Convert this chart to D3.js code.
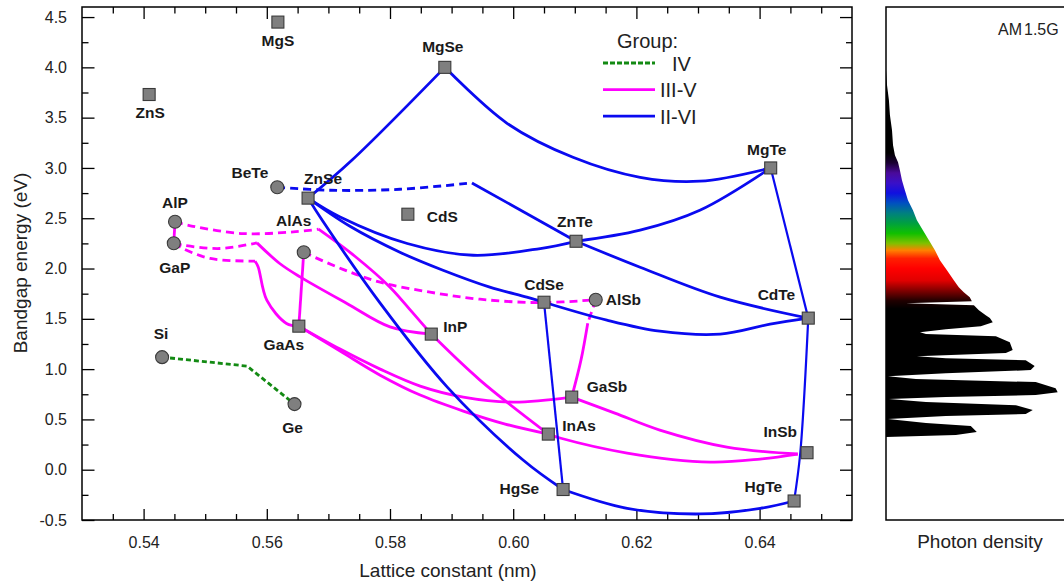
<!DOCTYPE html>
<html>
<head>
<meta charset="utf-8">
<script src="https://cdn.jsdelivr.net/npm/d3@7"></script>
<style>
  body { margin: 0; background: #fff; }
  svg { display: block; font-family: "Liberation Sans", Arial, sans-serif; }
  .tick text { font-family: "Liberation Sans", Arial, sans-serif; font-size: 16px; fill: #222; }
  .tick line { stroke: #000; stroke-width: 1.3; }
  .cmp { font-size: 15.5px; font-weight: bold; fill: #1a1a1a; }
  .label { font-size: 19px; fill: #222; }
</style>
</head>
<body>
<svg id="chart" width="1064" height="586"></svg>
<script>
// compounds: lattice constant (nm) vs bandgap (eV)
const compounds = ["MgS", "ZnS", "MgSe", "BeTe", "ZnSe", "CdS", "ZnTe", "MgTe", "CdTe", "CdSe", "AlSb",
    "AlP", "GaP", "AlAs", "GaAs", "InP", "GaSb", "InAs", "InSb", "HgSe", "HgTe", "Si", "Ge"];
const latticeNm = [0.5618, 0.5409, 0.5889, 0.5617, 0.5667, 0.5829, 0.6102, 0.6418, 0.6479, 0.6050, 0.6134,
    0.5451, 0.5449, 0.5660, 0.5652, 0.5867, 0.6095, 0.6057, 0.6477, 0.6081, 0.6456, 0.5430, 0.5645];
const bandgapEv = [4.45, 3.73, 4.00, 2.808, 2.70, 2.54, 2.271, 3.00, 1.507, 1.665, 1.69,
    2.465, 2.252, 2.162, 1.427, 1.348, 0.722, 0.354, 0.169, -0.197, -0.311, 1.119, 0.652];
const gapType = ["d", "d", "d", "i", "d", "d", "d", "d", "d", "d", "i",
    "i", "i", "i", "d", "d", "d", "d", "d", "d", "d", "i", "i"];

// alloy lines, [lattice, bandgap] points; indirect parts drawn dashed
const groupIV = [
    { indirect: true, straight: true, pts: [[0.5430, 1.119], [0.5568, 1.030], [0.5645, 0.652]] }
];
const groupIIIV = [
    { indirect: false, pts: [[0.5451, 2.465], [0.5449, 2.252]] },
    { indirect: true, pts: [[0.5451, 2.465], [0.5480, 2.420], [0.5561, 2.348], [0.5643, 2.364], [0.5684, 2.391]] },
    { indirect: false, pts: [[0.5684, 2.391], [0.5743, 2.122], [0.5800, 1.815], [0.5836, 1.566], [0.5867, 1.348]] },
    { indirect: true, pts: [[0.5449, 2.252], [0.5464, 2.232], [0.5524, 2.199], [0.5584, 2.255]] },
    { indirect: false, pts: [[0.5584, 2.255], [0.5621, 2.050], [0.5654, 1.917], [0.5730, 1.653], [0.5800, 1.420], [0.5867, 1.348]] },
    { indirect: true, pts: [[0.5449, 2.252], [0.5464, 2.199], [0.5508, 2.100], [0.5581, 2.073]] },
    { indirect: false, pts: [[0.5581, 2.073], [0.5586, 2.016], [0.5600, 1.685], [0.5632, 1.454], [0.5652, 1.427]] },
    { indirect: false, pts: [[0.5660, 2.162], [0.5652, 1.427]] },
    { indirect: true, pts: [[0.5660, 2.162], [0.5719, 2.003], [0.5784, 1.864], [0.5865, 1.765], [0.5946, 1.695], [0.6044, 1.661], [0.6134, 1.690]] },
    { indirect: false, pts: [[0.5652, 1.427], [0.5719, 1.179], [0.5784, 0.940], [0.5849, 0.742], [0.5919, 0.583], [0.5987, 0.454], [0.6057, 0.354]] },
    { indirect: false, pts: [[0.5652, 1.427], [0.5719, 1.199], [0.5784, 1.000], [0.5849, 0.831], [0.5919, 0.722], [0.6000, 0.672], [0.6095, 0.722]] },
    { indirect: false, pts: [[0.5867, 1.348], [0.5946, 0.891], [0.6057, 0.354]] },
    { indirect: true, pts: [[0.6134, 1.690], [0.6121, 1.457]] },
    { indirect: false, pts: [[0.6121, 1.457], [0.6110, 1.089], [0.6095, 0.722]] },
    { indirect: false, pts: [[0.6095, 0.722], [0.6165, 0.563], [0.6238, 0.394], [0.6347, 0.225], [0.6462, 0.156]] },
    { indirect: false, pts: [[0.6057, 0.354], [0.6076, 0.315], [0.6185, 0.166], [0.6320, 0.076], [0.6401, 0.106], [0.6462, 0.156]] }
];
const groupIIVI = [
    { indirect: true, pts: [[0.5617, 2.808], [0.5703, 2.778], [0.5816, 2.788], [0.5933, 2.851]] },
    { indirect: false, pts: [[0.5933, 2.851], [0.6102, 2.271]] },
    { indirect: false, pts: [[0.5667, 2.70], [0.5738, 3.076], [0.5889, 4.00]] },
    { indirect: false, pts: [[0.5889, 4.00], [0.5990, 3.444], [0.6097, 3.106], [0.6206, 2.907], [0.6303, 2.868], [0.6418, 3.00]] },
    { indirect: false, pts: [[0.5667, 2.70], [0.5719, 2.513], [0.5828, 2.249], [0.5935, 2.132], [0.6044, 2.199], [0.6102, 2.271]] },
    { indirect: false, pts: [[0.6102, 2.271], [0.6206, 2.381], [0.6303, 2.579], [0.6418, 3.00]] },
    { indirect: false, pts: [[0.6102, 2.271], [0.6206, 2.013], [0.6336, 1.715], [0.6479, 1.507]] },
    { indirect: false, pts: [[0.5667, 2.70], [0.5735, 2.420], [0.5816, 2.162], [0.5886, 1.983], [0.5962, 1.815], [0.6022, 1.715], [0.6050, 1.665]] },
    { indirect: false, pts: [[0.5667, 2.70], [0.5690, 2.480], [0.5784, 1.656], [0.5893, 0.821], [0.6016, 0.096], [0.6081, -0.197]] },
    { indirect: false, pts: [[0.6050, 1.665], [0.6152, 1.487], [0.6238, 1.377], [0.6336, 1.348], [0.6417, 1.447], [0.6479, 1.507]] },
    { indirect: false, thin: true, pts: [[0.6050, 1.665], [0.6081, -0.197]] },
    { indirect: false, pts: [[0.6081, -0.197], [0.6185, -0.384], [0.6303, -0.440], [0.6401, -0.384], [0.6456, -0.311]] },
    { indirect: false, thin: true, pts: [[0.6418, 3.00], [0.6479, 1.507]] },
    { indirect: false, thin: true, pts: [[0.6479, 1.507], [0.6466, 0.166], [0.6456, -0.311]] }
];

// AM1.5G photon density (arb. units) against photon energy (eV)
const spectrumEv = [3.970, 3.821, 3.672, 3.523, 3.374, 3.225, 3.126, 3.056, 2.977, 2.877, 2.778, 2.679, 2.579,
    2.480, 2.381, 2.281, 2.182, 2.083, 1.983, 1.884, 1.815, 1.765, 1.715, 1.675, 1.656, 1.636, 1.586, 1.536,
    1.507, 1.467, 1.427, 1.397, 1.367, 1.348, 1.328, 1.268, 1.189, 1.159, 1.129, 1.109, 1.089, 1.030, 0.990,
    0.960, 0.930, 0.901, 0.871, 0.811, 0.771, 0.742, 0.722, 0.702, 0.672, 0.642, 0.593, 0.553, 0.533, 0.503,
    0.464, 0.434, 0.374, 0.344, 0.324];
const spectrumDensity = [0, 0.006, 0.017, 0.023, 0.035, 0.041, 0.052, 0.070, 0.081, 0.093, 0.110, 0.128, 0.157,
    0.180, 0.215, 0.250, 0.285, 0.314, 0.355, 0.395, 0.424, 0.453, 0.488, 0.500, 0.116, 0.512, 0.541, 0.581,
    0.605, 0.622, 0.552, 0.349, 0.198, 0.233, 0.640, 0.721, 0.738, 0.698, 0.180, 0.349, 0.814, 0.866, 0.843,
    0.349, 0.012, 0.174, 0.872, 0.988, 1.000, 0.872, 0.349, 0.017, 0.233, 0.756, 0.855, 0.814, 0.349, 0.012,
    0.233, 0.494, 0.529, 0.407, 0];
const spectrumStopEv = [3.15, 3.05, 2.95, 2.85, 2.75, 2.65, 2.55, 2.45, 2.35, 2.25, 2.18, 2.10, 2.00, 1.88, 1.78, 1.68, 1.60];

const xTicks = [0.54, 0.56, 0.58, 0.60, 0.62, 0.64];
const yTicks = [-0.5, 0.0, 0.5, 1.0, 1.5, 2.0, 2.5, 3.0, 3.5, 4.0, 4.5];
const legendNames = ["IV", "III-V", "II-VI"];

// styling / layout
const stopColours = ["#000000", "#1a0033", "#4a0a9a", "#3a10c8", "#1010e0", "#0050c0", "#008080", "#00a040",
    "#10c000", "#80c000", "#ff8000", "#ff2000", "#ff0000", "#e00000", "#800000", "#200000", "#000000"];
const groupColour = { IV: "#138a13", "III-V": "#ff00ff", "II-VI": "#0a0af0" };
const labelPos = {
    MgS: [0, 24, "middle"], ZnS: [1, 23, "middle"], MgSe: [-2, -15, "middle"], BeTe: [-9, -9, "end"],
    ZnSe: [15, -14, "middle"], CdS: [19, 8, "start"], ZnTe: [-1, -14, "middle"], MgTe: [-4, -13, "middle"],
    CdTe: [-13, -18, "end"], CdSe: [0, -12, "middle"], AlSb: [10, 5, "start"], AlP: [0, -14, "middle"],
    GaP: [1, 30, "middle"], AlAs: [-10, -26, "middle"], GaAs: [-15, 24, "middle"], InP: [12, -2, "start"],
    GaSb: [15, -5, "start"], InAs: [14, -3, "start"], InSb: [-10, -16, "end"], HgSe: [-24, 4, "end"],
    HgTe: [-12, -9, "end"], Si: [-1, -18, "middle"], Ge: [-2, 29, "middle"]
};

const svg = d3.select('#chart');
const plotL = 82, plotR = 852, plotT = 7, plotB = 520;

const xScale = d3.scaleLinear().domain([0.53, 0.655]).range([plotL, plotR]);
const yScale = d3.scaleLinear().domain([-0.5, 4.6]).range([plotB, plotT]);
const dScale = d3.scaleLinear().domain([0, 1.2]).range([886, 1092]);

const minorX = d3.range(0.535, 0.655, 0.005).filter(v => Math.abs(v * 50 - Math.round(v * 50)) > 1e-6);
const minorY = d3.range(-0.25, 4.6, 0.5);

// axes, ticks pointing inward
svg.append('g').attr('transform', `translate(0, ${plotB})`)
    .call(d3.axisBottom(xScale).tickValues(xTicks).tickFormat(d => d.toFixed(2))
        .tickSize(-11).tickSizeOuter(0).tickPadding(17));
svg.append('g').attr('transform', `translate(0, ${plotB})`)
    .call(d3.axisBottom(xScale).tickValues(minorX).tickFormat('').tickSize(-6).tickSizeOuter(0));
svg.append('g').attr('transform', `translate(0, ${plotT})`)
    .call(d3.axisTop(xScale).tickValues(xTicks).tickFormat('').tickSize(-12).tickSizeOuter(0));
svg.append('g').attr('transform', `translate(0, ${plotT})`)
    .call(d3.axisTop(xScale).tickValues(minorX).tickFormat('').tickSize(-6.5).tickSizeOuter(0));

svg.append('g').attr('transform', `translate(${plotL}, 0)`)
    .call(d3.axisLeft(yScale).tickValues(yTicks).tickFormat(d => d.toFixed(1))
        .tickSize(-12.5).tickSizeOuter(0).tickPadding(15));
svg.append('g').attr('transform', `translate(${plotL}, 0)`)
    .call(d3.axisLeft(yScale).tickValues(minorY).tickFormat('').tickSize(-6.5).tickSizeOuter(0));
svg.append('g').attr('transform', `translate(${plotR}, 0)`)
    .call(d3.axisRight(yScale).tickValues(yTicks).tickFormat('').tickSize(-12).tickSizeOuter(0));
svg.append('g').attr('transform', `translate(${plotR}, 0)`)
    .call(d3.axisRight(yScale).tickValues(minorY).tickFormat('').tickSize(-6).tickSizeOuter(0));

svg.selectAll('.domain').remove();

// frames
svg.append('rect')
    .attr('x', plotL).attr('y', plotT).attr('width', plotR - plotL).attr('height', plotB - plotT)
    .attr('fill', 'none').attr('stroke', '#000').attr('stroke-width', 1.5);
svg.append('rect')
    .attr('x', dScale(0)).attr('y', plotT).attr('width', 210).attr('height', plotB - plotT)
    .attr('fill', 'none').attr('stroke', '#000').attr('stroke-width', 1.5);

// alloy lines
const smooth = d3.line()
    .x(p => xScale(p[0]))
    .y(p => yScale(p[1]))
    .curve(d3.curveCatmullRom.alpha(0.5));
const straight = d3.line()
    .x(p => xScale(p[0]))
    .y(p => yScale(p[1]));

const series = [["IV", groupIV], ["III-V", groupIIIV], ["II-VI", groupIIVI]];
const lines = svg.append('g').attr('fill', 'none').attr('stroke-linecap', 'butt');
series.forEach(([name, segs]) => {
    lines.selectAll(null)
        .data(segs)
        .enter()
        .append('path')
        .attr('d', s => (s.straight ? straight : smooth)(s.pts))
        .attr('stroke', groupColour[name])
        .attr('stroke-width', s => s.thin ? 2.2 : 2.8)
        .attr('stroke-dasharray', s => s.indirect ? (name === 'IV' ? '5,3' : '8,5') : null);
});

// compound markers
const pts = compounds.map((n, i) => ({ name: n, a: latticeNm[i], e: bandgapEv[i], type: gapType[i] }));
const marks = svg.append('g');
marks.selectAll(null)
    .data(pts.filter(p => p.type === 'd'))
    .enter()
    .append('rect')
    .attr('x', p => xScale(p.a) - 6)
    .attr('y', p => yScale(p.e) - 6)
    .attr('width', 12).attr('height', 12)
    .attr('fill', '#7f7f7f').attr('stroke', '#3a3a3a').attr('stroke-width', 1.1);
marks.selectAll(null)
    .data(pts.filter(p => p.type === 'i'))
    .enter()
    .append('circle')
    .attr('cx', p => xScale(p.a))
    .attr('cy', p => yScale(p.e))
    .attr('r', 6.5)
    .attr('fill', '#7f7f7f').attr('stroke', '#3a3a3a').attr('stroke-width', 1.1);

svg.append('g').selectAll(null)
    .data(pts)
    .enter()
    .append('text')
    .attr('class', 'cmp')
    .attr('x', p => xScale(p.a) + labelPos[p.name][0])
    .attr('y', p => yScale(p.e) + labelPos[p.name][1])
    .attr('text-anchor', p => labelPos[p.name][2])
    .text(p => p.name);

// legend
const legend = svg.append('g');
legend.append('text').attr('x', 617).attr('y', 48)
    .attr('font-size', 20).attr('fill', '#222').text('Group:');
legendNames.forEach((n, i) => {
    const y = 63 + i * 26.6;
    legend.append('line')
        .attr('x1', 603).attr('x2', 655).attr('y1', y).attr('y2', y)
        .attr('stroke', groupColour[n]).attr('stroke-width', 2.8)
        .attr('stroke-dasharray', i === 0 ? '5,2' : null);
    legend.append('text')
        .attr('x', i === 0 ? 672 : 660).attr('y', y + 7.5)
        .attr('font-size', 20).attr('fill', '#222')
        .text(n);
});

// spectrum panel
const sy0 = yScale(spectrumStopEv[0]), sy1 = yScale(spectrumStopEv[spectrumStopEv.length - 1]);
const grad = svg.append('defs').append('linearGradient')
    .attr('id', 'spec').attr('gradientUnits', 'userSpaceOnUse')
    .attr('x1', 0).attr('x2', 0)
    .attr('y1', sy0).attr('y2', sy1);
grad.selectAll('stop')
    .data(spectrumStopEv)
    .enter()
    .append('stop')
    .attr('offset', e => (yScale(e) - sy0) / (sy1 - sy0))
    .attr('stop-color', (e, i) => stopColours[i]);

const area = d3.area()
    .y(d => yScale(d[0]))
    .x0(dScale(0))
    .x1(d => dScale(d[1]))
    .curve(d3.curveLinear);
svg.append('path')
    .datum(spectrumEv.map((e, i) => [e, spectrumDensity[i]]))
    .attr('d', area)
    .attr('fill', 'url(#spec)');

const am = svg.append('text').attr('x', 998).attr('y', 35)
    .attr('font-size', 16).attr('fill', '#222');
am.append('tspan').text('AM');
am.append('tspan').attr('dx', 2).text('1.5G');

// axis labels
svg.append('text').attr('class', 'label')
    .attr('x', 448).attr('y', 577).attr('text-anchor', 'middle')
    .text('Lattice constant (nm)');
svg.append('text').attr('class', 'label')
    .attr('transform', 'translate(26.5, 263) rotate(-90)').attr('text-anchor', 'middle')
    .text('Bandgap energy (eV)');
svg.append('text').attr('class', 'label')
    .attr('x', 980).attr('y', 548).attr('text-anchor', 'middle')
    .text('Photon density');
</script>
</body>
</html>
